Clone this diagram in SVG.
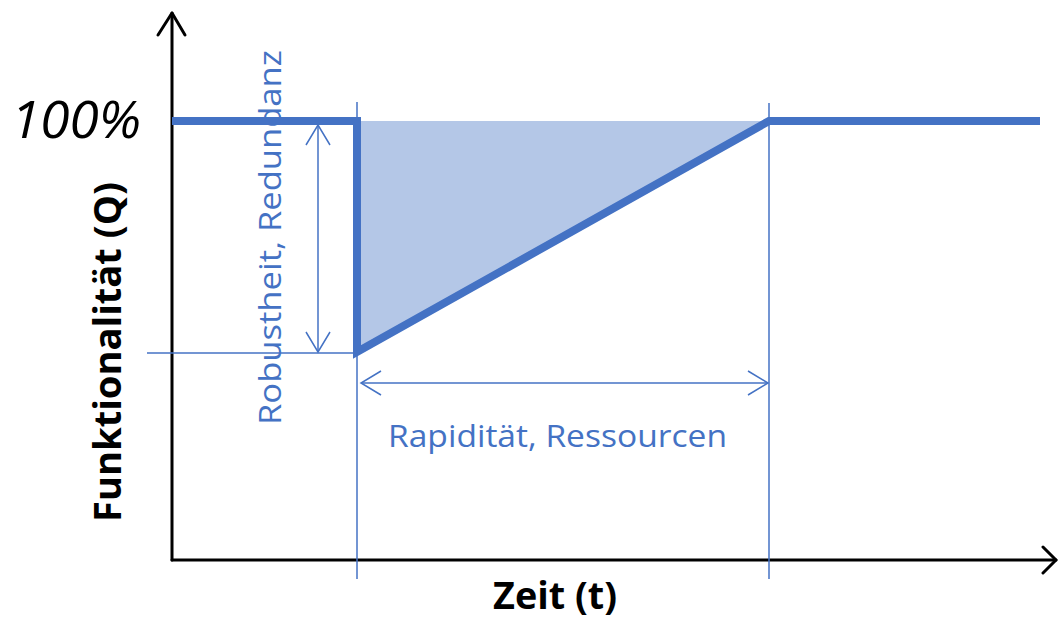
<svg xmlns="http://www.w3.org/2000/svg" width="1058" height="624" viewBox="0 0 1058 624">
<style>
.axis{stroke:#000;stroke-width:3;fill:none;stroke-linecap:round;stroke-linejoin:round}
.thin{stroke:#4472C4;stroke-width:1.5;fill:none}
.thick{stroke:#4472C4;stroke-width:8;fill:none;stroke-linejoin:miter}
.lbl{font-family:"Open Sans","Liberation Sans",sans-serif;fill:#4472C4;font-size:31px}
.bold{font-family:"Open Sans","Liberation Sans",sans-serif;font-weight:bold;fill:#000;font-size:37px}
</style>
<defs>
<marker id="ah" viewBox="0 0 24 28" refX="22" refY="14" markerWidth="24" markerHeight="28" markerUnits="userSpaceOnUse" orient="auto-start-reverse">
<path d="M2,2 L22,14 L2,26" fill="none" stroke="#4472C4" stroke-width="1.5"/>
</marker>
</defs>
<rect width="1058" height="624" fill="#fff"/>
<g id="area">
<polygon points="361,121 769,121 361,352" fill="#B4C7E7"/>
</g>
<g id="axes">
<line class="axis" x1="172" y1="560" x2="172" y2="13"/>
<polyline class="axis" points="158,35 172,13 185,35"/>
<line class="axis" x1="172" y1="560" x2="1056" y2="560"/>
<polyline class="axis" points="1043,547 1056,560 1043,573"/>
</g>
<g id="connectors">
<line class="thin" x1="357" y1="102" x2="357" y2="579"/>
<line class="thin" x1="769" y1="103" x2="769" y2="579"/>
<line class="thin" x1="147" y1="353" x2="357" y2="353"/>
<line class="thin" x1="318" y1="125" x2="318" y2="352" marker-start="url(#ah)" marker-end="url(#ah)"/>
<line class="thin" x1="361" y1="383" x2="768" y2="383" marker-start="url(#ah)" marker-end="url(#ah)"/>
</g>
<g id="curve">
<polyline class="thick" points="172,121 357,121 357,352 769,121 1040,121"/>
</g>
<g id="labels">
<text x="11" y="138" font-family="'Open Sans','Liberation Sans',sans-serif" font-style="italic" font-size="51" fill="#000" textLength="130" lengthAdjust="spacingAndGlyphs">100%</text>
<text class="bold" transform="translate(121,522) rotate(-90)" textLength="340" lengthAdjust="spacingAndGlyphs">Funktionalität (Q)</text>
<text class="bold" x="493" y="609" textLength="124" lengthAdjust="spacingAndGlyphs">Zeit (t)</text>
<text class="lbl" transform="translate(281,425) rotate(-90)" textLength="375" lengthAdjust="spacingAndGlyphs">Robustheit, Redundanz</text>
<text class="lbl" x="388" y="447" textLength="339" lengthAdjust="spacingAndGlyphs">Rapidität, Ressourcen</text>
</g>
</svg>
